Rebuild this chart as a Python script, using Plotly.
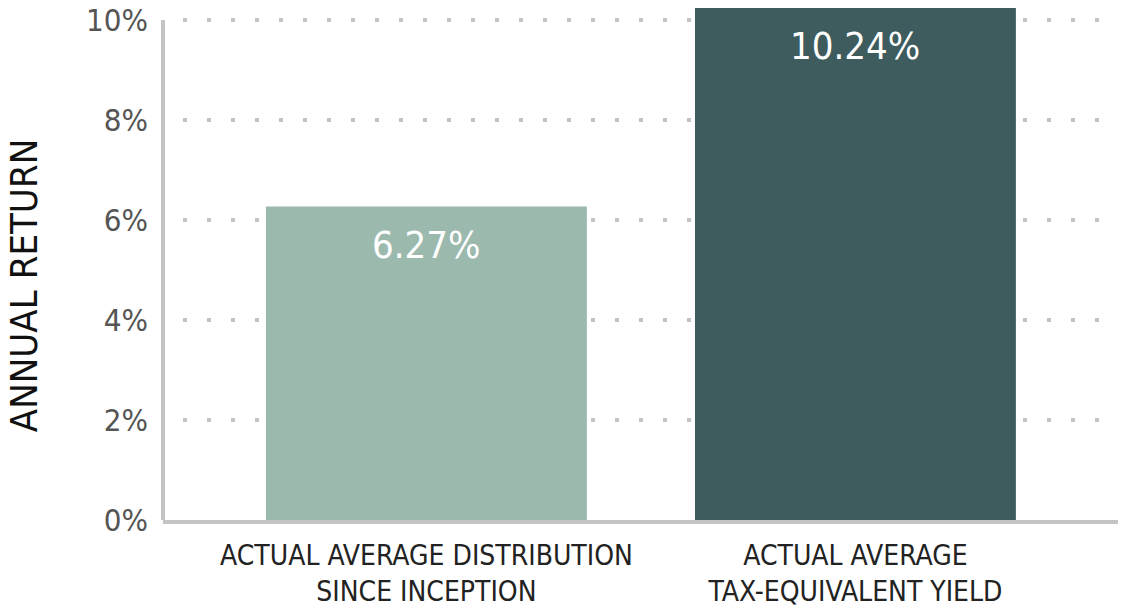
import plotly.graph_objects as go

categories = ["ACTUAL AVERAGE DISTRIBUTION<br>SINCE INCEPTION", "ACTUAL AVERAGE<br>TAX-EQUIVALENT YIELD"]
values = [6.27, 10.24]
value_labels = ["6.27%", "10.24%"]
bar_colors = ["#9bb9ad", "#3e5c5e"]
tick_vals = [0, 2, 4, 6, 8, 10]
tick_text = ["0%", "2%", "4%", "6%", "8%", "10%"]
y_title = "ANNUAL RETURN"

FONT = "DejaVu Sans Condensed, Liberation Sans Narrow, sans-serif"

fig = go.Figure()
fig.add_trace(go.Bar(
    x=[0, 1], y=values, marker=dict(color=bar_colors, line=dict(width=0)),
    width=0.748, hoverinfo="skip", showlegend=False,
))

for i, (v, t) in enumerate(zip(values, value_labels)):
    fig.add_annotation(x=i, y=min(v, 10.3), text=t, showarrow=False, yanchor="top",
                       yshift=-14, font=dict(family=FONT, size=38, color="white"))

# rotated y-axis title
fig.add_annotation(xref="paper", yref="paper", x=0, y=0.454, xanchor="right", yanchor="middle",
                   xshift=-115, text=y_title, textangle=-90, showarrow=False,
                   font=dict(family=FONT, size=38, color="#111111"))

# left axis line from 0 to 10%
fig.add_shape(type="line", xref="paper", yref="y", x0=0, x1=0, y0=0, y1=10,
              line=dict(color="#c4c4c4", width=4))

fig.update_layout(
    width=1121, height=608,
    margin=dict(l=163, r=3, t=5, b=88),
    paper_bgcolor="white", plot_bgcolor="white",
    font=dict(family=FONT),
    xaxis=dict(
        range=[-0.614, 1.612], tickvals=[0, 1], ticktext=categories,
        tickfont=dict(family=FONT, size=28, color="#222222"),
        showline=True, linecolor="#c4c4c4", linewidth=4, showgrid=False,
        zeroline=False, ticks="", automargin=False, ticklabelstandoff=7,
    ),
    yaxis=dict(
        range=[0, 10.3], tickvals=tick_vals, ticktext=tick_text,
        tickfont=dict(family=FONT, size=31, color="#555555"),
        showgrid=True, gridcolor="#c4c4c4", gridwidth=4, griddash="0px,20px,4px,0px",
        zeroline=False, showline=False, ticks="", ticklabelstandoff=14,
        automargin=False,
    ),
)

fig.write_html("out.html", config={"displayModeBar": False},
               post_script="document.body.style.margin='0';")
